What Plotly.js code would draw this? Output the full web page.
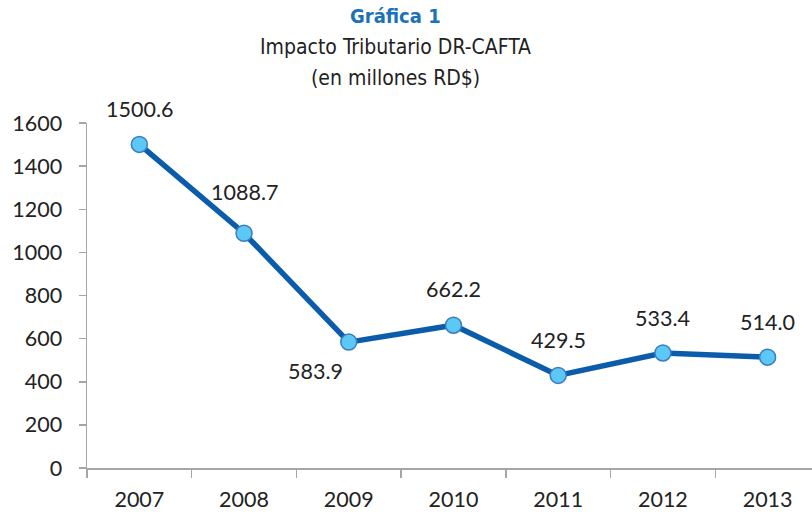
<!DOCTYPE html>
<html>
<head>
<meta charset="utf-8">
<script src="https://cdn.plot.ly/plotly-3.0.1.min.js"></script>
<style>body{margin:0;background:#fff}#chart{width:812px;height:512px}</style>
</head>
<body>
<div id="chart"></div>
<script>
// Impacto Tributario DR-CAFTA (millones RD$)
const years = ['2007','2008','2009','2010','2011','2012','2013'];
const impacto = [1500.6, 1088.7, 583.9, 662.2, 429.5, 533.4, 514.0];
const labelDx = [0, 0, -33, 0, 0, 0, 0];
const labelDy = [35, 41, -29, 36, 35, 35, 35];

const FONT = 'Lato, "Open Sans", sans-serif';
const TFONT = '"Liberation Sans Narrow", "DejaVu Sans Condensed", sans-serif';

const trace = {
  x: years, y: impacto, type: 'scatter', mode: 'lines+markers',
  line: {color: '#0b5cab', width: 5.5},
  marker: {size: 16, color: '#5bc8f5', line: {color: '#3d7cc0', width: 1.5}},
  hoverinfo: 'x+y'
};

// category index as x so '2007' is not read as a number
const notes = years.map((yr, i) => ({
  x: i, y: impacto[i], text: impacto[i].toFixed(1), showarrow: false,
  xshift: labelDx[i], yshift: labelDy[i],
  font: {family: FONT, size: 21.5, color: '#222'}
}));

const titleLines = [
  {text: '<b>Gráfica 1</b>', y: 1.31, color: '#1b72b8', size: 20},
  {text: 'Impacto Tributario DR-CAFTA', y: 1.22, color: '#222', size: 21},
  {text: '(en millones RD$)', y: 1.13, color: '#222', size: 21}
];
titleLines.forEach(t => notes.push({
  xref: 'paper', yref: 'paper', x: 0.425, y: t.y, xanchor: 'center', yanchor: 'middle',
  text: t.text, showarrow: false, font: {family: TFONT, size: t.size, color: t.color}
}));

const layout = {
  width: 812, height: 512,
  margin: {l: 87, r: 0, t: 123, b: 44},
  paper_bgcolor: '#fff', plot_bgcolor: '#fff',
  showlegend: false,
  font: {family: FONT, size: 21.5, color: '#222'},
  xaxis: {
    type: 'category', range: [-0.5, 6.424], tickson: 'boundaries',
    showline: true, linecolor: '#a6a6a6', linewidth: 1.5,
    ticks: 'outside', ticklen: 8, tickcolor: '#a6a6a6', tickwidth: 1.5,
    showgrid: false, zeroline: false, fixedrange: true,
    ticklabelstandoff: 12,
    tickfont: {family: FONT, size: 21.5, color: '#222'}
  },
  yaxis: {
    range: [0, 1600], dtick: 200, tick0: 0,
    showline: true, linecolor: '#a6a6a6', linewidth: 1.5,
    ticks: 'outside', ticklen: 7, tickcolor: '#a6a6a6', tickwidth: 1.5,
    showgrid: false, zeroline: false, fixedrange: true,
    ticklabelstandoff: 12,
    tickfont: {family: FONT, size: 21.5, color: '#222'}
  },
  annotations: notes
};

Plotly.newPlot('chart', [trace], layout, {displayModeBar: false, staticPlot: true});
</script>
</body>
</html>
